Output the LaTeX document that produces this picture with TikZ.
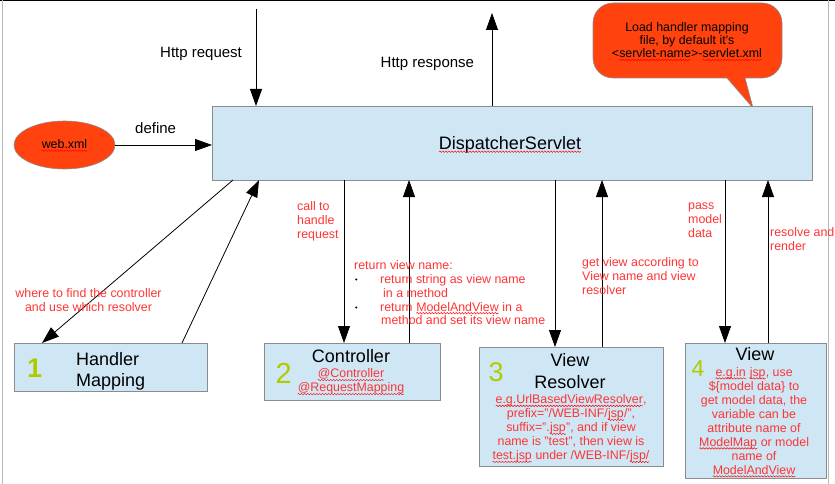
\documentclass[tikz,border=0pt]{standalone}
\usepackage{fontspec}
\setmainfont{Liberation Sans}
\usetikzlibrary{arrows.meta,shapes.geometric,decorations.pathmorphing}
\definecolor{boxblue}{HTML}{CFE7F5}
\definecolor{boxgray}{HTML}{8C8C8C}
\definecolor{orng}{HTML}{FF420E}
\definecolor{redtxt}{HTML}{FF3333}
\definecolor{numgreen}{HTML}{AFCB00}
\tikzset{
  sqline/.style={draw=red, line width=0.45pt, decorate, decoration={snake, amplitude=0.75pt, segment length=3pt}},
}
\newcommand\squig[1]{\tikz[baseline=(sqt.base)]{\node[inner sep=0pt,outer sep=0pt,draw=none,fill=none,shape=rectangle,anchor=base west,minimum size=0pt](sqt) at (0,0){#1};\draw[sqline]([yshift=-2.2pt]sqt.base west)--([yshift=-2.2pt]sqt.base east);}}
\begin{document}
\begin{tikzpicture}[x=1pt,y=-1pt,
  box/.style={draw=boxgray, fill=boxblue, line width=0.8pt, inner sep=0pt, outer sep=0pt},
  arr/.style={draw=black, line width=0.8pt, -{Triangle[length=17pt,width=12pt]}},
  lbl/.style={font=\fontsize{15}{17}\selectfont, inner sep=0pt, anchor=base west},
  rtxt/.style={text=redtxt, font=\fontsize{12.4}{14}\selectfont, inner sep=0pt},
  title/.style={font=\fontsize{18}{21}\selectfont, inner sep=0pt},
  num/.style={text=numgreen, inner sep=0pt, anchor=base west},
]
\useasboundingbox (0,0) rectangle (835,484);
% frame
\draw[black, line width=1pt] (0,0.5) -- (835,0.5);
\draw[gray!55, line width=0.8pt] (2,0) -- (2,484);
\draw[gray!55, line width=0.8pt] (828,0) -- (828,484);

% callout
\path[draw=boxgray, fill=orng, line width=0.6pt]
  (613,3) -- (762,3) arc[start angle=90, end angle=0, radius=20pt]
  -- (782,58) arc[start angle=0, end angle=-90, radius=20pt]
  -- (745,78) -- (753,108) -- (727,78) -- (613,78)
  arc[start angle=270, end angle=180, radius=20pt]
  -- (593,23) arc[start angle=180, end angle=90, radius=20pt] -- cycle;
\node[font=\fontsize{12.4}{13.3}\selectfont, align=center, anchor=north, inner sep=0pt] (calltxt) at (687,21.7)
  {\strut Load handler mapping\\file, by default it's\\\textless\squig{servlet-name}\textgreater-\squig{servlet.xml}};

% boxes
\node[box, minimum width=600pt, minimum height=74pt] (ds) at (512,143) {};
\node[box, minimum width=193pt, minimum height=48pt] (hm) at (110.5,367) {};
\node[box, minimum width=176pt, minimum height=57pt] (ctrl) at (352,371.5) {};
\node[box, minimum width=184pt, minimum height=119pt] (vr) at (571,406.5) {};
\node[box, minimum width=141pt, minimum height=135pt] (vw) at (755.5,410.5) {};
\node[ellipse, draw=boxgray, fill=orng, line width=0.6pt, minimum width=101pt, minimum height=48pt, inner sep=0pt] (web) at (64.5,145) {};

% box texts
\node[title, anchor=base] (dstxt) at (510,149.5) {\squig{DispatcherServlet}};
\node[font=\fontsize{12.4}{14}\selectfont, inner sep=0pt, anchor=base] (webtxt) at (64.5,148.5) {\squig{web.xml}};

\node[num, font=\bfseries\fontsize{27}{27}\selectfont] (n1) at (27,377.7) {1};
\node[title, align=left, anchor=north west] (hmtxt) at (76,351) {\strut Handler\\Mapping};

\node[num, font=\fontsize{29}{29}\selectfont] (n2) at (275.5,383.3) {2};
\node[title, anchor=base] (ctrltxt) at (351,362.3) {Controller};
\node[rtxt, align=center, anchor=north] (ctrlred) at (351,367.9) {\strut\squig{@Controller}\\\squig{@RequestMapping}};

\node[num, font=\fontsize{27}{27}\selectfont] (n3) at (488.5,381.7) {3};
\node[font=\fontsize{18}{21.6}\selectfont, inner sep=0pt, align=center, anchor=north] (vrtxt) at (570,351.6) {\strut View\\Resolver};
\node[rtxt, align=center, anchor=north] (vrred) at (571,393.7)
  {\strut\squig{e.g.UrlBasedViewResolver},\\prefix="/WEB-INF/\squig{jsp}/",\\suffix=".\squig{jsp}", and if view\\name is "test", then view is\\\squig{test.jsp} under /WEB-INF/\squig{jsp/}};

\node[num, font=\fontsize{23}{23}\selectfont] (n4) at (691.5,376.7) {4};
\node[title, anchor=base] (vwtxt) at (755,360.7) {View};
\node[rtxt, align=center, anchor=north] (vwred) at (754,366.2)
  {\strut\squig{e.g.in} \squig{jsp}, use\\\$\{model data\} to\\get model data, the\\variable can be\\attribute name of\\\squig{ModelMap} or model\\name of\\\squig{ModelAndView}};

% connectors
\coordinate (reqtop) at (256,9);
\coordinate (resptop) at (492,13);
\draw[arr] (reqtop) -- ([xshift=44pt]ds.north west);
\draw[arr] ([xshift=280pt]ds.north west) -- (resptop);
\draw[arr] (web.east) -- (web.east -| ds.west);
\draw[arr] ([xshift=21pt]ds.south west) -- ([xshift=28pt]hm.north west);
\draw[arr] ([xshift=168pt]hm.north west) -- ([xshift=47pt]ds.south west);
\draw[arr] ([xshift=132pt]ds.south west) -- ([xshift=80pt]ctrl.north west);
\draw[arr] ([xshift=145pt]ctrl.north west) -- ([xshift=197pt]ds.south west);
\draw[arr] ([xshift=343pt]ds.south west) -- ([xshift=76pt]vr.north west);
\draw[arr] ([xshift=123pt]vr.north west) -- ([xshift=390pt]ds.south west);
\draw[arr] ([xshift=513pt]ds.south west) -- ([xshift=40pt]vw.north west);
\draw[arr] ([xshift=83pt]vw.north west) -- ([xshift=556pt]ds.south west);

% labels
\node[lbl] (reqlbl) at (160,57.3) {Http request};
\node[lbl] (resplbl) at (380.5,68) {Http response};
\node[lbl] (deflbl) at (135,133.3) {define};
\node[rtxt, align=center, anchor=north] (wherelbl) at (88.5,287.9) {\strut where to find the controller\\and use which resolver};
\node[rtxt, align=left, anchor=north west] (calllbl) at (297,200.2) {\strut call to\\handle\\request};
\node[rtxt, anchor=base west] (retlbl) at (354,269) {return view name:};
\fill[black] (356.2,279.5) circle[radius=1.2pt];
\fill[black] (356.2,307.5) circle[radius=1.2pt];
\node[rtxt, anchor=base west] (ret1) at (380,283) {return string as view name};
\node[rtxt, anchor=base west] (ret2) at (383,297) {in a method};
\node[rtxt, anchor=base west] (ret3) at (380,311) {return \squig{ModelAndView} in a};
\node[rtxt, anchor=base west] (ret4) at (381,324.7) {method and set its view name};
\node[rtxt, align=left, anchor=north west] (getlbl) at (582,256.2) {\strut get view according to\\View name and view\\resolver};
\node[rtxt, align=left, anchor=north west] (passlbl) at (688,199.2) {\strut pass\\model\\data};
\node[rtxt, align=left, anchor=north west] (reslbl) at (770,226.2) {\strut resolve and\\render};
\end{tikzpicture}
\end{document}
